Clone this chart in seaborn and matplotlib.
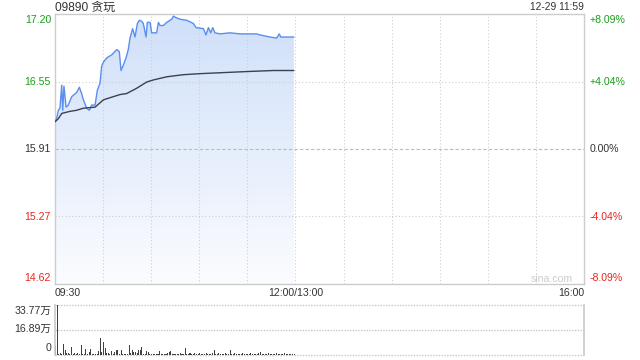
import numpy as np
import pandas as pd
import matplotlib
matplotlib.use("Agg")
import matplotlib.pyplot as plt
import seaborn as sns
from matplotlib.colors import LinearSegmentedColormap

# ---------------- data ----------------
title = "09890 贪玩"
stamp = "12-29 11:59"
watermark = "sina.com"
prev_close = 15.91
price_ticks = [17.20, 16.55, 15.91, 15.27, 14.62]
pct_labels = ["+8.09%", "+4.04%", "0.00%", "-4.04%", "-8.09%"]
time_labels = ["09:30", "12:00/13:00", "16:00"]
time_pos = [0, 150, 330]
vol_ticks = [33.77, 16.89, 0]
vol_labels = ["33.77万", "16.89万", "0"]

price_min = [0, 1.0, 2.1, 3.1, 4.2, 4.8, 5.6, 6.9, 8.3, 10.4, 13.5, 15.2, 16.6, 17.7,
             19.8, 21.4, 22.9, 25.0, 26.4, 28.1, 29.1, 30.2, 32.2, 35.4, 38.5, 40.1,
             41.2, 42.6, 44.3, 45.7, 46.8, 48.4, 49.9, 51.4, 52.6, 54.1, 55.1, 56.8,
             57.6, 59.3, 60.3, 63.4, 64.5, 65.5, 67.6, 69.7, 72.8, 73.9, 74.9, 78.0,
             82.2, 86.3, 88.0, 92.6, 94.2, 95.7, 97.1, 98.4, 99.8, 103.0, 109.2,
             115.4, 125.8, 127.9, 134.1, 138.3, 139.9, 140.8, 149]
price_val = [16.17, 16.20, 16.28, 16.30, 16.52, 16.28, 16.51, 16.31, 16.33, 16.41,
             16.45, 16.50, 16.44, 16.38, 16.30, 16.28, 16.33, 16.33, 16.47, 16.54,
             16.70, 16.74, 16.78, 16.81, 16.86, 16.84, 16.66, 16.71, 16.78, 16.86,
             16.97, 17.06, 16.98, 17.11, 17.14, 17.13, 17.11, 16.98, 17.12, 17.12,
             17.02, 17.02, 17.12, 17.09, 17.09, 17.12, 17.15, 17.18, 17.17, 17.15,
             17.14, 17.11, 17.07, 17.06, 17.00, 17.07, 17.02, 17.07, 17.02, 17.01,
             17.02, 17.01, 17.01, 17.00, 16.98, 16.97, 17.01, 16.98, 16.98]

avg_min = [0, 2.1, 4.2, 9.4, 13.5, 17.7, 25.0, 30.2, 34.3, 40.5, 44.7, 50.9, 57.2,
           61.4, 69.7, 80.1, 90.5, 105.1, 119.6, 136.3, 149]
avg_val = [16.17, 16.20, 16.25, 16.27, 16.28, 16.30, 16.31, 16.38, 16.40, 16.43,
           16.44, 16.49, 16.55, 16.57, 16.60, 16.62, 16.63, 16.64, 16.65, 16.66, 16.66]

# volume per minute, in 万
volume = [6.1, 33.77, 0.6, 1.4, 1.0, 7.4, 3.4, 1.4, 1.4, 0.7,
          5.4, 0.7, 1.4, 1.0, 1.4, 0.6, 6.8, 1.0, 1.0, 4.0,
          1.0, 2.0, 4.0, 0.7, 1.0, 0.7, 1.0, 2.7, 11.5, 2.0,
          8.8, 4.7, 1.6, 1.4, 0.8, 3.0, 0.7, 2.0, 3.4, 3.4,
          0.7, 3.4, 1.0, 0.7, 0.6, 0.7, 6.8, 1.4, 3.4, 2.0,
          2.0, 1.4, 3.4, 3.4, 5.4, 0.7, 1.0, 2.7, 2.0, 0.7,
          0.7, 1.0, 0.7, 1.0, 0.6, 2.7, 0.7, 1.0, 0.7, 1.0,
          1.4, 2.0, 2.7, 1.0, 1.0, 1.0, 0.7, 1.0, 1.4, 0.7,
          1.0, 4.7, 0.7, 1.0, 1.4, 0.7, 1.0, 1.4, 1.0, 0.7,
          1.4, 1.0, 0.7, 1.0, 1.4, 1.0, 0.7, 1.0, 1.4, 3.4,
          1.0, 0.7, 1.4, 1.0, 0.7, 1.0, 1.4, 0.7, 1.0, 3.4,
          0.7, 1.0, 1.4, 0.7, 1.0, 0.7, 1.0, 1.4, 0.7, 1.0,
          0.7, 1.0, 1.4, 0.7, 1.0, 0.7, 1.0, 1.4, 2.0, 0.7,
          1.0, 0.7, 1.0, 1.4, 0.7, 1.0, 0.7, 1.0, 1.4, 0.7,
          1.0, 0.7, 1.0, 1.4, 0.7, 1.0, 0.7, 1.0, 0.7, 1.0]

# ---------------- style ----------------
sns.set_theme(style="white")
plt.rcParams["font.family"] = ["Liberation Sans", "Noto Sans CJK SC", "DejaVu Sans"]

W, H = 640, 360
fig = plt.figure(figsize=(W / 100, H / 100), dpi=100)

def fx(px):
    return px / W

def fy(py):
    return 1 - py / H

L, R = 55, 584
ax = fig.add_axes([fx(L), fy(284), fx(R - L), (284 - 14) / H])
axv = fig.add_axes([fx(L), fy(355), fx(R - L), (355 - 305) / H])

ymin, ymax = price_ticks[-1], price_ticks[0]
grid_c = "#cfcfcf"
spine_c = "#cccccc"
dots = (0, (1, 2))

price_df = pd.DataFrame({"minute": price_min, "price": price_val})
avg_df = pd.DataFrame({"minute": avg_min, "avg": avg_val})

# gradient fill under the price line
poly = ax.fill_between(price_df["minute"], price_df["price"], ymin,
                       facecolor="none", edgecolor="none")
cmap = LinearSegmentedColormap.from_list("g", ["#fbfcff", "#d0e0f9"])
grad = np.linspace(0, 1, 256).reshape(-1, 1)
im = ax.imshow(grad, extent=[0, max(price_min), ymin, max(price_val)],
               origin="lower", aspect="auto", cmap=cmap, zorder=1)
im.set_clip_path(poly.get_paths()[0], transform=ax.transData)

# grid
for t in range(30, 330, 30):
    ax.axvline(t, color=grid_c, lw=0.8, ls=dots, zorder=2)
for p in price_ticks[1:-1]:
    if p == prev_close:
        ax.axhline(p, color="#bbbbbb", lw=0.8, ls=(0, (3, 2)), zorder=2)
    else:
        ax.axhline(p, color=grid_c, lw=0.8, ls=dots, zorder=2)

sns.lineplot(data=price_df, x="minute", y="price", ax=ax, color="#5a8ef0",
             lw=1.0, zorder=3)
sns.lineplot(data=avg_df, x="minute", y="avg", ax=ax, color="#3a4150",
             lw=1.0, zorder=3)

ax.set_xlim(0, 330)
ax.set_ylim(ymin, ymax)
ax.set_xticks([])
ax.set_yticks([])
ax.set_xlabel("")
ax.set_ylabel("")
for s in ax.spines.values():
    s.set_color(spine_c)
    s.set_linewidth(1.0)

# volume panel (categorical positions 0..n-1 == minutes)
vol_df = pd.DataFrame({"minute": np.arange(len(volume)), "vol": volume})
sns.barplot(data=vol_df, x="minute", y="vol", ax=axv,
            color="#404040", width=0.65, errorbar=None, saturation=1,
            linewidth=0, edgecolor="none")
axv.set_xlim(-0.3, 330)
axv.set_ylim(0, vol_ticks[0])
axv.set_xticks([])
axv.set_yticks([])
axv.set_xlabel("")
axv.set_ylabel("")
for name in ["left", "right"]:
    axv.spines[name].set_color(spine_c)
for name in ["top", "bottom"]:
    axv.spines[name].set_visible(False)
for v in vol_ticks:
    axv.axhline(v, color="#c8c8c8", lw=1.0, ls=(0, (1, 1)), clip_on=False, zorder=0.5)

# ---------------- text ----------------
fs = 7.6
green, red, dark = "#1a9e1a", "#e8261f", "#333333"
label_y = [20, 82, 149, 217, 278]
label_c = [green, green, dark, red, red]
for lab, pct, y, c in zip(price_ticks, pct_labels, label_y, label_c):
    fig.text(fx(51), fy(y), f"{lab:.2f}", ha="right", va="center", fontsize=fs, color=c)
    fig.text(fx(590), fy(y), pct, ha="left", va="center", fontsize=fs, color=c)

time_ha = ["left", "center", "right"]
for lab, t, ha in zip(time_labels, time_pos, time_ha):
    xpix = L + t / 330 * (R - L)
    fig.text(fx(xpix), fy(293), lab, ha=ha, va="center", fontsize=fs, color=dark)

vol_y = [311, 329, 348]
for lab, y in zip(vol_labels, vol_y):
    fig.text(fx(51), fy(y), lab, ha="right", va="center", fontsize=fs, color=dark)

fig.text(fx(55), fy(7.5), title, ha="left", va="center", fontsize=8.6, color=dark)
fig.text(fx(584), fy(7), stamp, ha="right", va="center", fontsize=7.4, color=dark)
fig.text(fx(573), fy(279), watermark, ha="right", va="center", fontsize=7.6,
         color="#cccccc")

fig.savefig("out.png", dpi=100)
